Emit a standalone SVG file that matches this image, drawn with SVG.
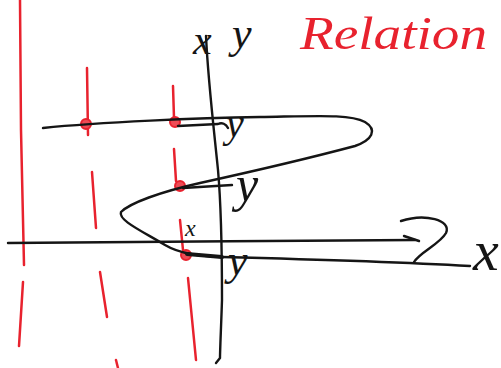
<svg xmlns="http://www.w3.org/2000/svg" width="501" height="368" viewBox="0 0 501 368">
<style>
.r{fill:none;stroke:#e8222e;stroke-width:2.5;stroke-linecap:round}
.rd{fill:#ee4b55;stroke:#e8222e;stroke-width:2}
.k{fill:none;stroke:#151515;stroke-width:2.4;stroke-linecap:round;stroke-linejoin:round}
.t{font-family:"Liberation Serif",serif;font-style:italic;fill:#151515}
.tr{font-family:"Liberation Serif",serif;font-style:italic;fill:#e8222e}
</style>
<rect width="501" height="368" fill="#fff"/>
<g id="red-lines">
<path class="r" d="M20,0 L21,130 L24,265"/>
<path class="r" d="M23,282 L19,346"/>
<path class="r" d="M87,68 L88,135"/>
<path class="r" d="M92,172 L96,228"/>
<path class="r" d="M100,272 L107,317"/>
<path class="r" d="M116,360 L118,368"/>
<path class="r" d="M173,86 L174,118"/>
<path class="r" d="M174,149 L176,181"/>
<path class="r" d="M180,220 L183,250"/>
<path class="r" d="M188,278 L196,360"/>
<circle class="rd" cx="86" cy="124" r="5"/>
<circle class="rd" cx="175" cy="122" r="5"/>
<circle class="rd" cx="180" cy="186" r="5"/>
<circle class="rd" cx="186" cy="255" r="5"/>
</g>
<g id="axes">
<path class="k" d="M206,36 C208,80 214,130 218,170 C222,215 222,260 222,300 C221,330 220,350 220,358 L216,363"/>
<path class="k" d="M8,243 C100,242 300,241 415,240"/>
<path class="k" d="M404,236 L419,241"/>
<path class="k" d="M401,221 C425,213 452,220 446,233 C440,244 420,252 414,262"/>
</g>
<g id="relation">
<path class="k" d="M43,128 C100,122 200,118 260,117 C320,116 350,114 365,122 C378,130 372,140 355,146 C310,158 250,172 200,183 C160,192 130,203 121,212 C118,220 140,230 165,245 C180,254 200,256 222,257 C300,259 400,262 470,266"/>
<path class="k" d="M178,126 L218,124 C222,122 226,124 228,128"/>
<path class="k" d="M183,188 L232,185"/>
<path class="k" style="stroke-width:4" d="M187,254 L222,257"/>
</g>
<g id="labels">
<text class="t" x="193" y="54" font-size="42">x</text>
<text class="t" x="232" y="48" font-size="44">y</text>
<text class="tr" x="300" y="49" font-size="46" textLength="187" lengthAdjust="spacingAndGlyphs">Relation</text>
<text class="t" x="226" y="137" font-size="40">y</text>
<text class="t" x="236" y="201" font-size="50">y</text>
<text class="t" x="228" y="275" font-size="44">y</text>
<text class="t" x="185" y="236" font-size="24">x</text>
<text class="t" x="473" y="270" font-size="58">x</text>
</g>
</svg>
